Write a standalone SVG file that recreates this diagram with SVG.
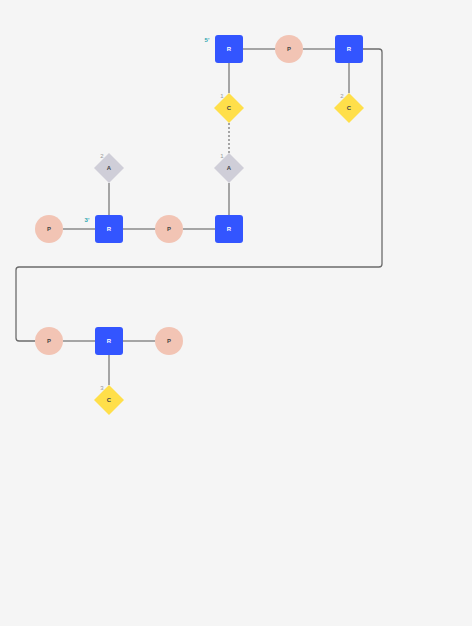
<svg xmlns="http://www.w3.org/2000/svg" width="472" height="626" viewBox="0 0 472 626">
<style>
.ln{stroke:#8a8a8a;stroke-width:1.5;fill:none}
.dot{stroke:#8a8a8a;stroke-width:1.5;stroke-dasharray:2 2;fill:none}
.big{stroke:#6b6b6b;stroke-width:1.3;fill:none}
.r{fill:#3355ff}
.p{fill:#f2c4b4}
.c{fill:#ffdf4a}
.a{fill:#cfced8}
.t{font-family:"Liberation Sans",Arial,sans-serif;font-size:6px;font-weight:bold;text-anchor:middle;dominant-baseline:central}
.tw{fill:#ffffff}
.td{fill:#444444}
.n{font-family:"Liberation Sans",Arial,sans-serif;font-size:6px;fill:#999999;text-anchor:middle}
.np{font-family:"Liberation Sans",Arial,sans-serif;font-size:6px;fill:#2aa6b0;font-weight:bold;text-anchor:middle}
</style>
<rect width="472" height="626" fill="#f5f5f5"/>
<g id="connectors">
<line class="ln" x1="243" y1="49" x2="275" y2="49"/>
<line class="ln" x1="303" y1="49" x2="335" y2="49"/>
<line class="ln" x1="229" y1="63" x2="229" y2="93"/>
<line class="ln" x1="349" y1="63" x2="349" y2="93"/>
<line class="dot" x1="229" y1="123" x2="229" y2="153"/>
<line class="ln" x1="229" y1="183" x2="229" y2="215"/>
<line class="ln" x1="109" y1="183" x2="109" y2="215"/>
<line class="ln" x1="63" y1="229" x2="95" y2="229"/>
<line class="ln" x1="123" y1="229" x2="155" y2="229"/>
<line class="ln" x1="183" y1="229" x2="215" y2="229"/>
<line class="ln" x1="63" y1="341" x2="95" y2="341"/>
<line class="ln" x1="123" y1="341" x2="155" y2="341"/>
<line class="ln" x1="109" y1="355" x2="109" y2="385"/>
<path class="big" d="M363 49 H379 Q382 49 382 52 V264 Q382 267 379 267 H19 Q16 267 16 270 V338 Q16 341 19 341 H35"/>
</g>
<g id="r1"><rect class="r" x="215" y="35" width="28" height="28" rx="3"/><text class="t tw" x="229" y="49">R</text></g>
<g id="p1"><circle class="p" cx="289" cy="49" r="14"/><text class="t td" x="289" y="49">P</text></g>
<g id="r2"><rect class="r" x="335" y="35" width="28" height="28" rx="3"/><text class="t tw" x="349" y="49">R</text></g>
<g id="c1"><polygon class="c" points="229,93 244,108 229,123 214,108"/><text class="t td" x="229" y="108">C</text></g>
<g id="c2"><polygon class="c" points="349,93 364,108 349,123 334,108"/><text class="t td" x="349" y="108">C</text></g>
<g id="a1"><polygon class="a" points="229,153 244,168 229,183 214,168"/><text class="t td" x="229" y="168">A</text></g>
<g id="a2"><polygon class="a" points="109,153 124,168 109,183 94,168"/><text class="t td" x="109" y="168">A</text></g>
<g id="p2"><circle class="p" cx="49" cy="229" r="14"/><text class="t td" x="49" y="229">P</text></g>
<g id="r3"><rect class="r" x="95" y="215" width="28" height="28" rx="3"/><text class="t tw" x="109" y="229">R</text></g>
<g id="p3"><circle class="p" cx="169" cy="229" r="14"/><text class="t td" x="169" y="229">P</text></g>
<g id="r4"><rect class="r" x="215" y="215" width="28" height="28" rx="3"/><text class="t tw" x="229" y="229">R</text></g>
<g id="p4"><circle class="p" cx="49" cy="341" r="14"/><text class="t td" x="49" y="341">P</text></g>
<g id="r5"><rect class="r" x="95" y="327" width="28" height="28" rx="3"/><text class="t tw" x="109" y="341">R</text></g>
<g id="p5"><circle class="p" cx="169" cy="341" r="14"/><text class="t td" x="169" y="341">P</text></g>
<g id="c3"><polygon class="c" points="109,385 124,400 109,415 94,400"/><text class="t td" x="109" y="400">C</text></g>
<g id="labels">
<text class="np" x="207" y="42">5'</text>
<text class="np" x="87" y="222">3'</text>
<text class="n" x="222" y="98">1</text>
<text class="n" x="342" y="98">2</text>
<text class="n" x="102" y="158">2</text>
<text class="n" x="222" y="158">1</text>
<text class="n" x="102" y="390">3</text>
</g>
</svg>
